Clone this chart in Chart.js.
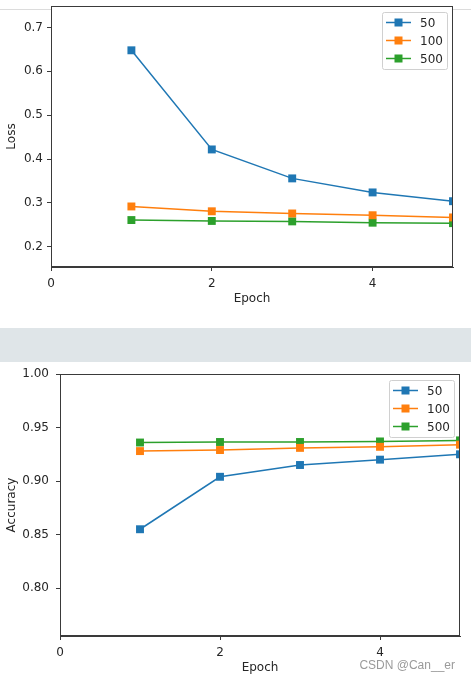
<!DOCTYPE html>
<html>
<head>
  <title>Loss / Accuracy per Epoch</title>
  <script src="https://cdn.jsdelivr.net/npm/chart.js"></script>
  <style>
    body {
      margin: 0;
      width: 471px;
      height: 681px;
      background: #fff;
      position: relative;
      overflow: hidden;
      font-family: 'DejaVu Sans', sans-serif;
    }
    .topline {
      position: absolute;
      left: 0; top: 9px;
      width: 471px; height: 1px;
      background: #dcdcdc;
    }
    .band {
      position: absolute;
      left: 0; top: 328px;
      width: 471px; height: 34px;
      background: #dfe5e8;
    }
    .chart-box {
      position: absolute;
      left: 0;
      width: 471px;
    }
    .watermark {
      position: absolute;
      right: 16px; top: 658px;
      font-family: 'Liberation Sans', Arial, sans-serif;
      font-size: 12px;
      color: #9a9a9a;
    }
  </style>
</head>
<body>
  <div class="topline"></div>
  <div class="band"></div>

  <div class="chart-box" style="top:0;height:328px">
    <canvas id="lossChart" width="471" height="328"></canvas>
  </div>
  <div class="chart-box" style="top:362px;height:319px">
    <canvas id="accChart" width="471" height="319"></canvas>
  </div>
  <div class="watermark">CSDN @Can__er</div>

  <script>
    const epochs = [1, 2, 3, 4, 5];
    const seriesLabels = ['50', '100', '500'];
    const seriesColors = ['#1f77b4', '#ff7f0e', '#2ca02c'];

    const loss50 = [0.648, 0.422, 0.356, 0.324, 0.304];
    const loss100 = [0.292, 0.281, 0.276, 0.272, 0.267];
    const loss500 = [0.261, 0.259, 0.258, 0.255, 0.254];

    const acc50 = [0.855, 0.904, 0.915, 0.920, 0.925];
    const acc100 = [0.928, 0.929, 0.931, 0.932, 0.934];
    const acc500 = [0.936, 0.9365, 0.9365, 0.937, 0.938];

    const epochTicks = [0, 2, 4];
    const lossTicks = [0.2, 0.3, 0.4, 0.5, 0.6, 0.7];
    const accTicks = [0.80, 0.85, 0.90, 0.95, 1.00];

    const axisColor = '#3a3a3a';
    const textColor = '#262626';
    const font = { family: 'DejaVu Sans', size: 12 };

    // white axes face + full box around the plot + legend in the upper right
    const framePlugin = {
      id: 'frame',
      beforeDraw(chart) {
        const a = chart.chartArea;
        const ctx = chart.ctx;
        ctx.save();
        ctx.fillStyle = '#fff';
        ctx.fillRect(a.left, a.top, a.right - a.left, a.bottom - a.top);
        ctx.restore();
      },
      afterDraw(chart) {
        const a = chart.chartArea;
        const ctx = chart.ctx;
        ctx.save();
        ctx.strokeStyle = axisColor;
        ctx.lineWidth = 1;
        ctx.strokeRect(a.left + 0.5, a.top + 0.5, a.right - a.left - 1, a.bottom - a.top - 1);

        // legend
        const w = 65, h = 57, inset = 6;
        const x0 = a.right - inset - w, y0 = a.top + inset;
        ctx.fillStyle = 'rgba(255,255,255,0.8)';
        ctx.strokeStyle = '#d0d0d0';
        ctx.beginPath();
        ctx.roundRect(x0 + 0.5, y0 + 0.5, w, h, 2);
        ctx.fill();
        ctx.stroke();
        ctx.font = '12px "DejaVu Sans"';
        ctx.textBaseline = 'middle';
        chart.data.datasets.forEach((ds, i) => {
          const cy = y0 + 10.5 + i * 18;
          ctx.strokeStyle = ds.borderColor;
          ctx.lineWidth = 1.5;
          ctx.beginPath();
          ctx.moveTo(x0 + 4, cy);
          ctx.lineTo(x0 + 29, cy);
          ctx.stroke();
          ctx.fillStyle = ds.borderColor;
          ctx.fillRect(x0 + 12.5, cy - 4, 8, 8);
          ctx.fillStyle = textColor;
          ctx.fillText(ds.label, x0 + 38, cy + 1);
        });
        ctx.restore();
      }
    };

    function makeDatasets(values) {
      return values.map((v, i) => ({
        label: seriesLabels[i],
        data: epochs.map((e, j) => ({ x: e, y: v[j] })),
        borderColor: seriesColors[i],
        backgroundColor: seriesColors[i],
        borderWidth: 1.5,
        pointStyle: 'rect',
        pointRadius: 5.6,
        pointBorderWidth: 0,
        tension: 0
      }));
    }

    function makeChart(id, values, o) {
      new Chart(document.getElementById(id), {
        type: 'line',
        data: { datasets: makeDatasets(values) },
        plugins: [framePlugin],
        options: {
          responsive: false,
          animation: false,
          layout: { padding: { left: 0, top: o.top, right: o.right, bottom: 0 } },
          plugins: { legend: { display: false }, tooltip: { enabled: false } },
          scales: {
            x: {
              type: 'linear',
              min: 0, max: 5,
              afterBuildTicks: s => { s.ticks = epochTicks.map(v => ({ value: v })); },
              afterFit: s => { s.height = o.xHeight; s.paddingLeft = 0; s.paddingRight = 0; },
              grid: { drawOnChartArea: false, color: axisColor, tickLength: 4, tickColor: axisColor },
              border: { color: axisColor },
              ticks: { color: textColor, font, padding: 6, maxRotation: 0 },
              title: { display: true, text: 'Epoch', color: textColor, font, padding: { top: 0, bottom: o.xTitlePad } }
            },
            y: {
              min: o.yMin, max: o.yMax,
              afterBuildTicks: s => { s.ticks = o.yTicks.map(v => ({ value: v })); },
              afterFit: s => { s.width = o.left; s.paddingTop = 0; s.paddingBottom = 0; },
              grid: { drawOnChartArea: false, color: axisColor, tickLength: 4, tickColor: axisColor },
              border: { color: axisColor },
              ticks: { color: textColor, font, padding: o.yPad, callback: v => v.toFixed(o.dec) },
              title: { display: true, text: o.yTitle, color: textColor, font, padding: { top: 5, bottom: 0 } }
            }
          }
        }
      });
    }

    makeChart('lossChart', [loss50, loss100, loss500], {
      top: 6, right: 18, left: 51, xHeight: 61, xTitlePad: 22,
      yMin: 0.154, yMax: 0.749, yTicks: lossTicks, dec: 1, yPad: 4, yTitle: 'Loss'
    });

    makeChart('accChart', [acc50, acc100, acc500], {
      top: 12, right: 11, left: 60, xHeight: 45, xTitlePad: 6,
      yMin: 0.7553, yMax: 1.0, yTicks: accTicks, dec: 2, yPad: 7, yTitle: 'Accuracy'
    });
  </script>
</body>
</html>
